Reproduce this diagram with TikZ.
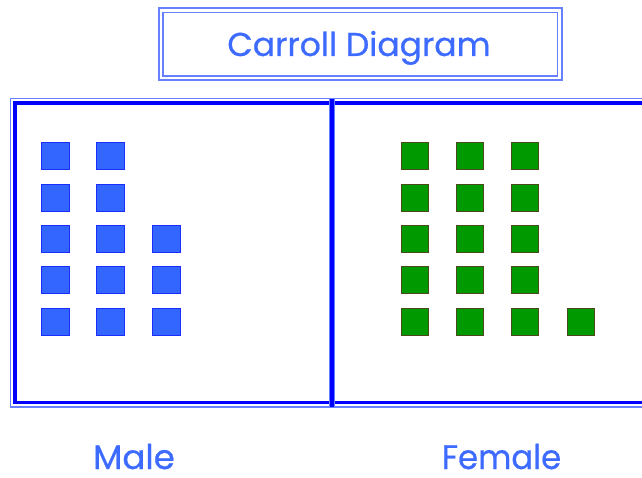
\documentclass[tikz,border=0pt]{standalone}
\usepackage{fontspec}
\setmainfont{Poppins}[FakeBold=0.6]
\newfontfamily\lblfont{Poppins}[FakeBold=0.6]
\definecolor{txtblue}{HTML}{3D6BFF}
\definecolor{lineblue}{HTML}{0000FF}
\definecolor{lightblue}{HTML}{6680FF}
\definecolor{sqblue}{HTML}{3366FF}
\definecolor{sqblueedge}{HTML}{1A2EFF}
\definecolor{sqgreen}{HTML}{009900}
\definecolor{sqgreenedge}{HTML}{4A4A1A}
\tikzset{
  bluesq/.style={draw=sqblueedge, fill=sqblue, line width=1pt, minimum width=28pt, minimum height=27pt, inner sep=0pt},
  greensq/.style={draw=sqgreenedge, fill=sqgreen, line width=1pt, minimum width=27pt, minimum height=27pt, inner sep=0pt},
  lbl/.style={text=txtblue, font=\lblfont\fontsize{34}{36}\selectfont, inner sep=0pt, anchor=base, text depth=0pt},
  thinframe/.style={draw=lightblue, line width=1.4pt},
  thickframe/.style={draw=lineblue, line width=3.2pt}
}
\begin{document}
\begin{tikzpicture}[x=1pt,y=-1pt]
\useasboundingbox (0,0) rectangle (642,478);
\fill[white] (0,0) rectangle (642,478);
\begin{scope}
\clip (0,0) rectangle (642,478);
% title box
\draw[thinframe, line width=2pt] (158.5,8) rectangle (562,80.5);
\draw[thinframe, line width=1.2pt] (163,12.8) rectangle (557.5,76);
\node[lbl, font=\lblfont\fontsize{33}{36}\selectfont] (title) at (359,56) {Carroll Diagram};
% main frame
\draw[thinframe] (10.5,98.5) rectangle (660,406.8);
\draw[thickframe] (15,103) rectangle (660,402.5);
\coordinate (dtop) at (331.5,98);
\coordinate (dbot) at (331.5,407);
\draw[draw=lightblue, line width=6pt] (dtop) -- (dbot);
\draw[draw=lineblue, line width=4pt] (dtop) -- (dbot);
\draw[draw=lightblue, line width=1pt] (10.5,98.5) -- (660,98.5);
\end{scope}
% blue squares
\foreach \c/\x in {1/55.5,2/110.7,3/166} {
  \foreach \r in {1,...,5} {
    \pgfmathsetmacro{\yy}{156.3+41.35*(\r-1)}
    \ifnum\c<3
      \node[bluesq] (m-\c-\r) at (\x,\yy) {};
    \else\ifnum\r>2
      \node[bluesq] (m-\c-\r) at (\x,\yy) {};
    \fi\fi
  }
}
% green squares
\foreach \c/\x in {1/414.7,2/470,3/525.3,4/580.7} {
  \foreach \r in {1,...,5} {
    \pgfmathsetmacro{\yy}{156.3+41.35*(\r-1)}
    \ifnum\c<4
      \node[greensq] (f-\c-\r) at (\x,\yy) {};
    \else\ifnum\r=5
      \node[greensq] (f-\c-\r) at (\x,\yy) {};
    \fi\fi
  }
}
\node[lbl] (male) at (134,469) {Male};
\node[lbl] (female) at (501.5,469) {\scalebox{0.95}[1]{Female}};
\end{tikzpicture}
\end{document}
